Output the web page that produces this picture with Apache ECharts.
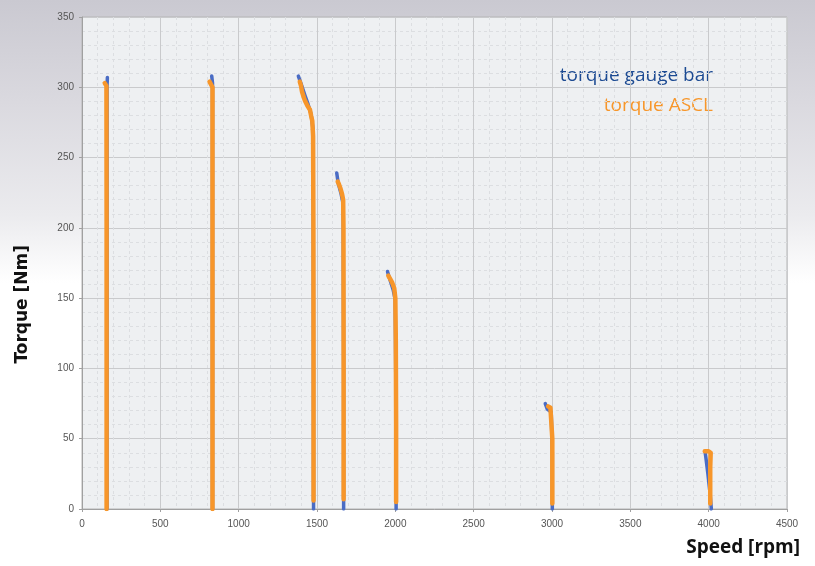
<!DOCTYPE html>
<html>
<head>
<meta charset="utf-8">
<script src="https://cdn.jsdelivr.net/npm/echarts@6/dist/echarts.min.js"></script>
<style>
  html, body { margin: 0; padding: 0; background: #fff; }
  #chart { width: 815px; height: 566px; }
</style>
</head>
<body>
<div id="chart"></div>
<script>
// speed [rpm], torque [Nm] pairs, one small array per run
const gauge160 = [[162, 307], [160, 301], [160, 0]]
const gauge830 = [[828, 308], [833, 303], [833, 0]]
const gauge1475 = [[1381, 308], [1397, 303], [1424, 294], [1443, 288], [1462, 281], [1475, 270], [1477, 150], [1478, 0]]
const gauge1670 = [[1626, 239], [1635, 232], [1654, 224], [1667, 217], [1670, 100], [1670, 0]]
const gauge2005 = [[1950, 169], [1960, 165], [1986, 156], [1999, 149], [2005, 60], [2005, 0]]
const gauge3000 = [[2957, 75], [2970, 71], [2995, 69], [3002, 40], [3002, 0]]
const gauge4010 = [[3978, 40], [3984, 35], [3995, 25], [4010, 10], [4017, 0]]

const ascl160 = [[145, 303], [156, 301], [157, 200], [157, 0]]
const ascl830 = [[814, 304], [822, 303], [833, 300], [833, 0]]
const ascl1475 = [[1390, 304], [1398, 301], [1404, 297], [1412, 296], [1418, 292], [1425, 290], [1432, 291], [1438, 287], [1448, 287], [1455, 284], [1462, 280], [1470, 276], [1475, 265], [1477, 200], [1478, 100], [1478, 6]]
const ascl1670 = [[1632, 233], [1640, 231], [1650, 228], [1660, 224], [1667, 220], [1669, 200], [1670, 100], [1670, 7]]
const ascl2005 = [[1955, 166], [1965, 164], [1980, 161], [1993, 157], [2000, 150], [2003, 120], [2005, 60], [2005, 5]]
const ascl3000 = [[2975, 73], [2990, 72], [3000, 71], [3002, 50], [3002, 4]]
const ascl4010 = [[3975, 41], [4000, 41], [4013, 40], [4010, 30], [4010, 4]]

const gaugeRuns = [gauge160, gauge830, gauge1475, gauge1670, gauge2005, gauge3000, gauge4010]
const asclRuns = [ascl160, ascl830, ascl1475, ascl1670, ascl2005, ascl3000, ascl4010]

const BLUE = '#4a6cc4'
const ORANGE = '#f7962a'

// join the runs with gaps so each curve stays separate
function joinRuns (runs) {
  const out = []
  runs.forEach((run, i) => {
    if (i > 0) out.push(['-', '-'])
    run.forEach(p => out.push(p))
  })
  return out
}

const tickLabel = {
  color: '#555',
  fontSize: 10,
  fontFamily: 'Liberation Sans Narrow, Arial',
  formatter: v => String(v)
}

const chart = echarts.init(document.getElementById('chart'))
chart.setOption({
  animation: false,
  backgroundColor: {
    type: 'linear', x: 0, y: 0, x2: 0, y2: 1,
    colorStops: [
      {offset: 0, color: '#cac9d1'},
      {offset: 0.18, color: '#dad9df'},
      {offset: 0.38, color: '#ebebee'},
      {offset: 0.5, color: '#ffffff'},
      {offset: 1, color: '#ffffff'}
    ]
  },
  grid: {
    left: 82,
    right: 28,
    top: 17,
    bottom: 57,
    show: true,
    backgroundColor: '#eef0f2',
    borderColor: '#b4b4b4',
    borderWidth: 1
  },
  xAxis: {
    type: 'value',
    min: 0,
    max: 4500,
    interval: 500,
    axisLine: {lineStyle: {color: '#a0a0a0'}},
    axisTick: {show: true, length: 3, lineStyle: {color: '#a0a0a0'}},
    axisLabel: Object.assign({margin: 10}, tickLabel),
    splitLine: {lineStyle: {color: '#c9cacc', width: 1}},
    minorTick: {show: false, splitNumber: 5},
    minorSplitLine: {show: true, lineStyle: {color: '#dcdee1', type: [3, 3]}}
  },
  yAxis: {
    type: 'value',
    min: 0,
    max: 350,
    interval: 50,
    axisLine: {show: true, lineStyle: {color: '#a0a0a0'}},
    axisTick: {show: true, length: 3, lineStyle: {color: '#a0a0a0'}},
    axisLabel: Object.assign({margin: 8}, tickLabel),
    splitLine: {lineStyle: {color: '#c9cacc', width: 1}},
    minorTick: {show: false, splitNumber: 5},
    minorSplitLine: {show: true, lineStyle: {color: '#dcdee1', type: [3, 3]}}
  },
  series: [
    {
      name: 'torque gauge bar',
      type: 'line',
      showSymbol: false,
      connectNulls: false,
      data: joinRuns(gaugeRuns),
      lineStyle: {color: BLUE, width: 3.5, cap: 'round', join: 'round'},
      z: 2
    },
    {
      name: 'torque ASCL',
      type: 'line',
      showSymbol: false,
      connectNulls: false,
      data: joinRuns(asclRuns),
      lineStyle: {color: ORANGE, width: 4.5, cap: 'round', join: 'round'},
      z: 3
    }
  ],
  graphic: [
    {
      type: 'text',
      right: 815 - 713,
      top: 66,
      style: {text: 'torque gauge bar', fill: '#1c4a92', font: '19px "Open Sans"', textAlign: 'right'}
    },
    {
      type: 'text',
      right: 815 - 713,
      top: 96,
      style: {text: 'torque ASCL', fill: ORANGE, font: '19px "Open Sans"', textAlign: 'right'}
    },
    {
      type: 'text',
      left: 14,
      top: 245,
      rotation: Math.PI / 2,
      style: {text: 'Torque [Nm]', fill: '#111', font: 'bold 17px "DejaVu Sans"'}
    },
    {
      type: 'text',
      right: 15,
      top: 538,
      style: {text: 'Speed [rpm]', fill: '#111', font: 'bold 19px "Open Sans"'}
    }
  ]
})
</script>
</body>
</html>
